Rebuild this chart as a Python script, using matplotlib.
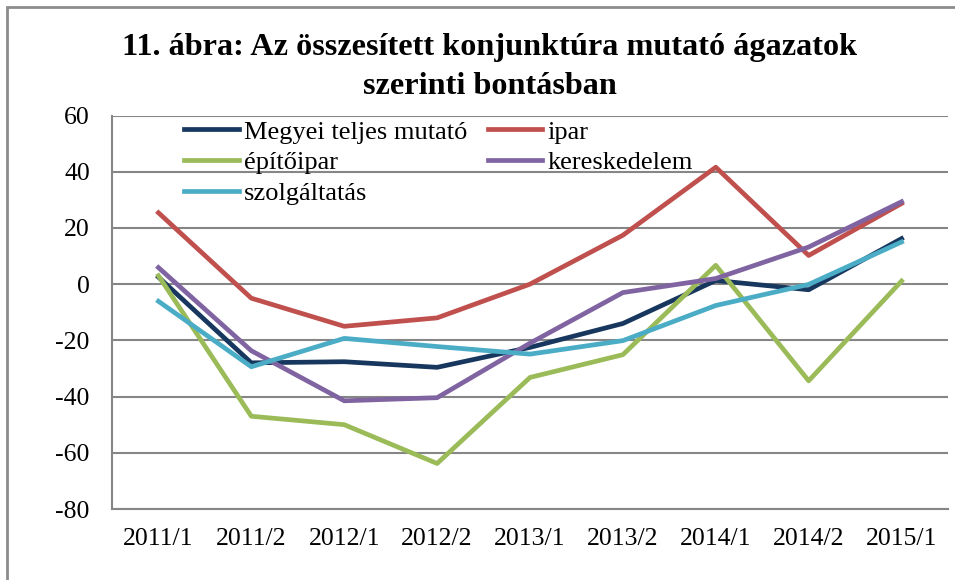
import matplotlib.pyplot as plt
from matplotlib.patches import Rectangle

# adatok
idoszakok = ['2011/1', '2011/2', '2012/1', '2012/2', '2013/1', '2013/2', '2014/1', '2014/2', '2015/1']
megyei = [2.5, -28, -27.6, -29.6, -22.5, -14, 1.3, -2, 16.2]
ipar = [25.4, -5, -15, -12, 0, 17.4, 41.6, 10.2, 28.7]
epitoipar = [3, -47, -50, -63.8, -33.2, -25.1, 6.7, -34.4, 1.1]
kereskedelem = [5.9, -23.7, -41.5, -40.4, -21, -3, 2, 13.2, 29.3]
szolgaltatas = [-6.1, -29.4, -19.3, -22.2, -24.9, -20.1, -7.6, -0.1, 15]

plt.rcParams['font.family'] = ['Liberation Serif', 'DejaVu Serif']
plt.rcParams['axes.unicode_minus'] = False

fig = plt.figure(figsize=(9.55, 5.8), dpi=100)
ax = fig.add_axes([112/955, 1-509/580, (948-112)/955, (509-115.5)/580])

# keret a teljes ábra körül
fig.patches.append(Rectangle((7/955, -0.05), 1.1, 1 - 7/580 + 0.05, transform=fig.transFigure,
                             fill=False, edgecolor='#8c8c8c', linewidth=2))

x = range(len(idoszakok))
lw = 3.4
h1, = ax.plot(x, megyei, color='#17375E', lw=lw, label='Megyei teljes mutató')
h2, = ax.plot(x, ipar, color='#C0504D', lw=lw, label='ipar')
h3, = ax.plot(x, epitoipar, color='#9BBB59', lw=lw, label='építőipar')
h4, = ax.plot(x, kereskedelem, color='#8064A2', lw=lw, label='kereskedelem')
h5, = ax.plot(x, szolgaltatas, color='#4BACC6', lw=lw, label='szolgáltatás')

ax.set_xlim(-0.5, len(idoszakok) - 0.5)
ax.set_ylim(-80, 60)
ax.set_yticks(range(-80, 61, 20))
ax.set_xticks(list(x))
ax.set_xticklabels(idoszakok)
ax.tick_params(length=0, labelsize=18.5)
ax.tick_params(axis='y', pad=16)
ax.tick_params(axis='x', pad=14)
ax.yaxis.grid(True, color='#868686', linewidth=1.5)
ax.set_axisbelow(True)
for s in ['top', 'right']:
    ax.spines[s].set_visible(False)
for s in ['left', 'bottom']:
    ax.spines[s].set_color('#868686')
    ax.spines[s].set_linewidth(1.5)

# legenda soronként rendezve
ax.legend([h1, h3, h5, h2, h4],
          ['Megyei teljes mutató', 'építőipar', 'szolgáltatás', 'ipar', 'kereskedelem'],
          ncol=2, frameon=False, fontsize=19, loc='upper left',
          bbox_to_anchor=(0.074, 1.015), handlelength=2.05, handletextpad=0.2,
          columnspacing=0.8, labelspacing=0.27, borderaxespad=0)

fig.text(0.513, 1 - 47/580, '11. ábra: Az összesített konjunktúra mutató ágazatok',
         ha='center', va='center', fontsize=23.2, fontweight='bold')
fig.text(0.513, 1 - 86/580, 'szerinti bontásban',
         ha='center', va='center', fontsize=23.2, fontweight='bold')

fig.savefig('out.png', dpi=100)
